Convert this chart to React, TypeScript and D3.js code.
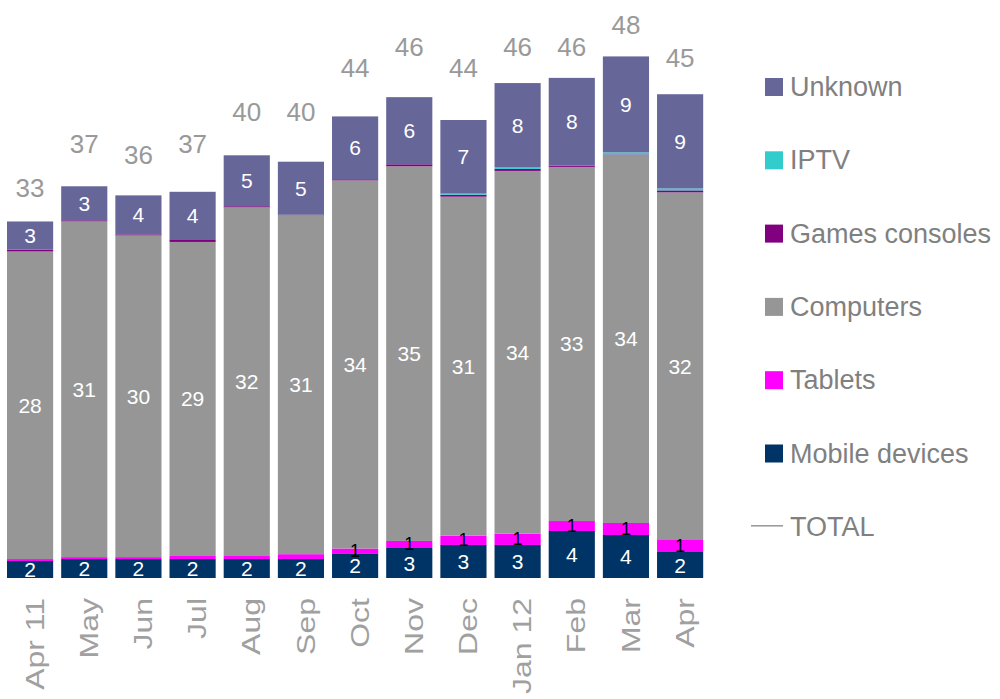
import React, { useEffect, useRef } from 'react';
import * as d3 from 'd3';

// months on the x axis
const months = ["Apr 11", "May", "Jun", "Jul", "Aug", "Sep", "Oct", "Nov", "Dec", "Jan 12", "Feb", "Mar", "Apr"];

// series values
const mobile = [1.57, 1.75, 1.75, 1.75, 1.75, 1.75, 2.22, 2.77, 3.05, 3.05, 4.34, 3.97, 2.4];
const tablets = [0.18, 0.18, 0.18, 0.28, 0.28, 0.45, 0.5, 0.65, 0.86, 1.04, 0.92, 1.11, 1.11];
const computers = [28.4, 31.0, 29.7, 29.0, 32.2, 31.3, 34.0, 34.6, 31.3, 33.5, 32.7, 34.0, 32.1];
const games = [0.18, 0.1, 0.1, 0.18, 0.1, 0.04, 0.1, 0.18, 0.18, 0.18, 0.12, 0.04, 0.18];
const iptv = [0, 0, 0, 0, 0, 0, 0, 0, 0.1, 0.18, 0, 0.18, 0.18];
const unknown = [2.59, 3.14, 3.6, 4.45, 4.7, 4.9, 5.8, 6.2, 6.8, 7.75, 8.1, 8.86, 8.7];
const total = [33, 37, 36, 37, 40, 40, 44, 46, 44, 46, 46, 48, 45];

const seriesKeys = ["Mobile devices", "Tablets", "Computers", "Games consoles", "IPTV", "Unknown"];
const seriesColors = ["#003366", "#FF00FF", "#969696", "#800080", "#33CCCC", "#666699"];

export default function App() {
    const ref = useRef<SVGSVGElement>(null);

    useEffect(() => {
        const svg = d3.select(ref.current);
        svg.selectAll("*").remove();

        const width = 1000;
        const height = 699;
        const baseY = 578;

        const rows = months.map((m, i) => ({
            month: m,
            "Mobile devices": mobile[i],
            "Tablets": tablets[i],
            "Computers": computers[i],
            "Games consoles": games[i],
            "IPTV": iptv[i],
            "Unknown": unknown[i],
        }));

        const x = d3.scaleBand<string>()
            .domain(months)
            .range([3, 707.2])
            .paddingInner(0.148)
            .paddingOuter(0.074);

        const y = d3.scaleLinear().domain([0, 50]).range([baseY, baseY - 50 * 10.83]);

        const color = d3.scaleOrdinal<string, string>().domain(seriesKeys).range(seriesColors);

        const stack = d3.stack<any>().keys(seriesKeys);
        const layers = stack(rows);

        const font = "'Liberation Sans', Arial, sans-serif";

        // bars
        const g = svg.append("g");
        layers.forEach((layer) => {
            g.selectAll("rect." + layer.key.replace(/ /g, ""))
                .data(layer)
                .enter()
                .append("rect")
                .attr("x", (d: any) => x(d.data.month)!)
                .attr("width", x.bandwidth())
                .attr("y", (d) => y(d[1]))
                .attr("height", (d) => y(d[0]) - y(d[1]))
                .attr("fill", color(layer.key));
        });

        // segment labels (tablets only when they round to 1)
        const labelled = ["Mobile devices", "Tablets", "Computers", "Unknown"];
        layers.filter((l) => labelled.includes(l.key)).forEach((layer) => {
            const isTab = layer.key === "Tablets";
            g.selectAll("text.l" + layer.key.replace(/ /g, ""))
                .data(layer.filter((d) => !isTab || d[1] - d[0] >= 0.5))
                .enter()
                .append("text")
                .attr("x", (d: any) => x(d.data.month)! + x.bandwidth() / 2)
                .attr("y", (d) => (y(d[0]) + y(d[1])) / 2)
                .attr("text-anchor", "middle")
                .attr("dominant-baseline", "central")
                .attr("font-family", font)
                .attr("font-size", isTab ? 18 : 21)
                .attr("fill", isTab ? "#000000" : "#ffffff")
                .text((d) => Math.round(d[1] - d[0]));
        });

        // TOTAL labels
        svg.append("g").selectAll("text")
            .data(total)
            .enter()
            .append("text")
            .attr("x", (d, i) => x(months[i])! + x.bandwidth() / 2)
            .attr("y", (d) => y(d) - 33)
            .attr("text-anchor", "middle")
            .attr("dominant-baseline", "central")
            .attr("font-family", font)
            .attr("font-size", 26)
            .attr("fill", "#999999")
            .text((d) => d);

        // x axis labels, rotated
        svg.append("g").selectAll("text")
            .data(months)
            .enter()
            .append("text")
            .attr("transform", (d) => `translate(${x(d)! + x.bandwidth() / 2 + 5},598) rotate(-90) scale(1.28,1)`)
            .attr("text-anchor", "end")
            .attr("dominant-baseline", "central")
            .attr("font-family", font)
            .attr("font-size", 25)
            .attr("fill", "#a0a0a0")
            .text((d) => d);

        // legend
        const legendItems = ["Unknown", "IPTV", "Games consoles", "Computers", "Tablets", "Mobile devices", "TOTAL"];
        const leg = svg.append("g");
        legendItems.forEach((name, i) => {
            const cy = 87 + i * 73.3;
            if (name === "TOTAL") {
                leg.append("line")
                    .attr("x1", 751).attr("x2", 783)
                    .attr("y1", cy - 1).attr("y2", cy - 1)
                    .attr("stroke", "#969696")
                    .attr("stroke-width", 1.5);
            } else {
                leg.append("rect")
                    .attr("x", 765).attr("y", cy - 9)
                    .attr("width", 18).attr("height", 18)
                    .attr("fill", color(name));
            }
            leg.append("text")
                .attr("x", 790)
                .attr("y", cy)
                .attr("dominant-baseline", "central")
                .attr("font-family", font)
                .attr("font-size", 27)
                .attr("fill", "#808080")
                .text(name);
        });

        svg.attr("width", width).attr("height", height);
    }, []);

    return (
        <svg ref={ref} width={1000} height={699}
            style={{ position: "absolute", left: 0, top: 0, background: "white" }} />
    );
}
